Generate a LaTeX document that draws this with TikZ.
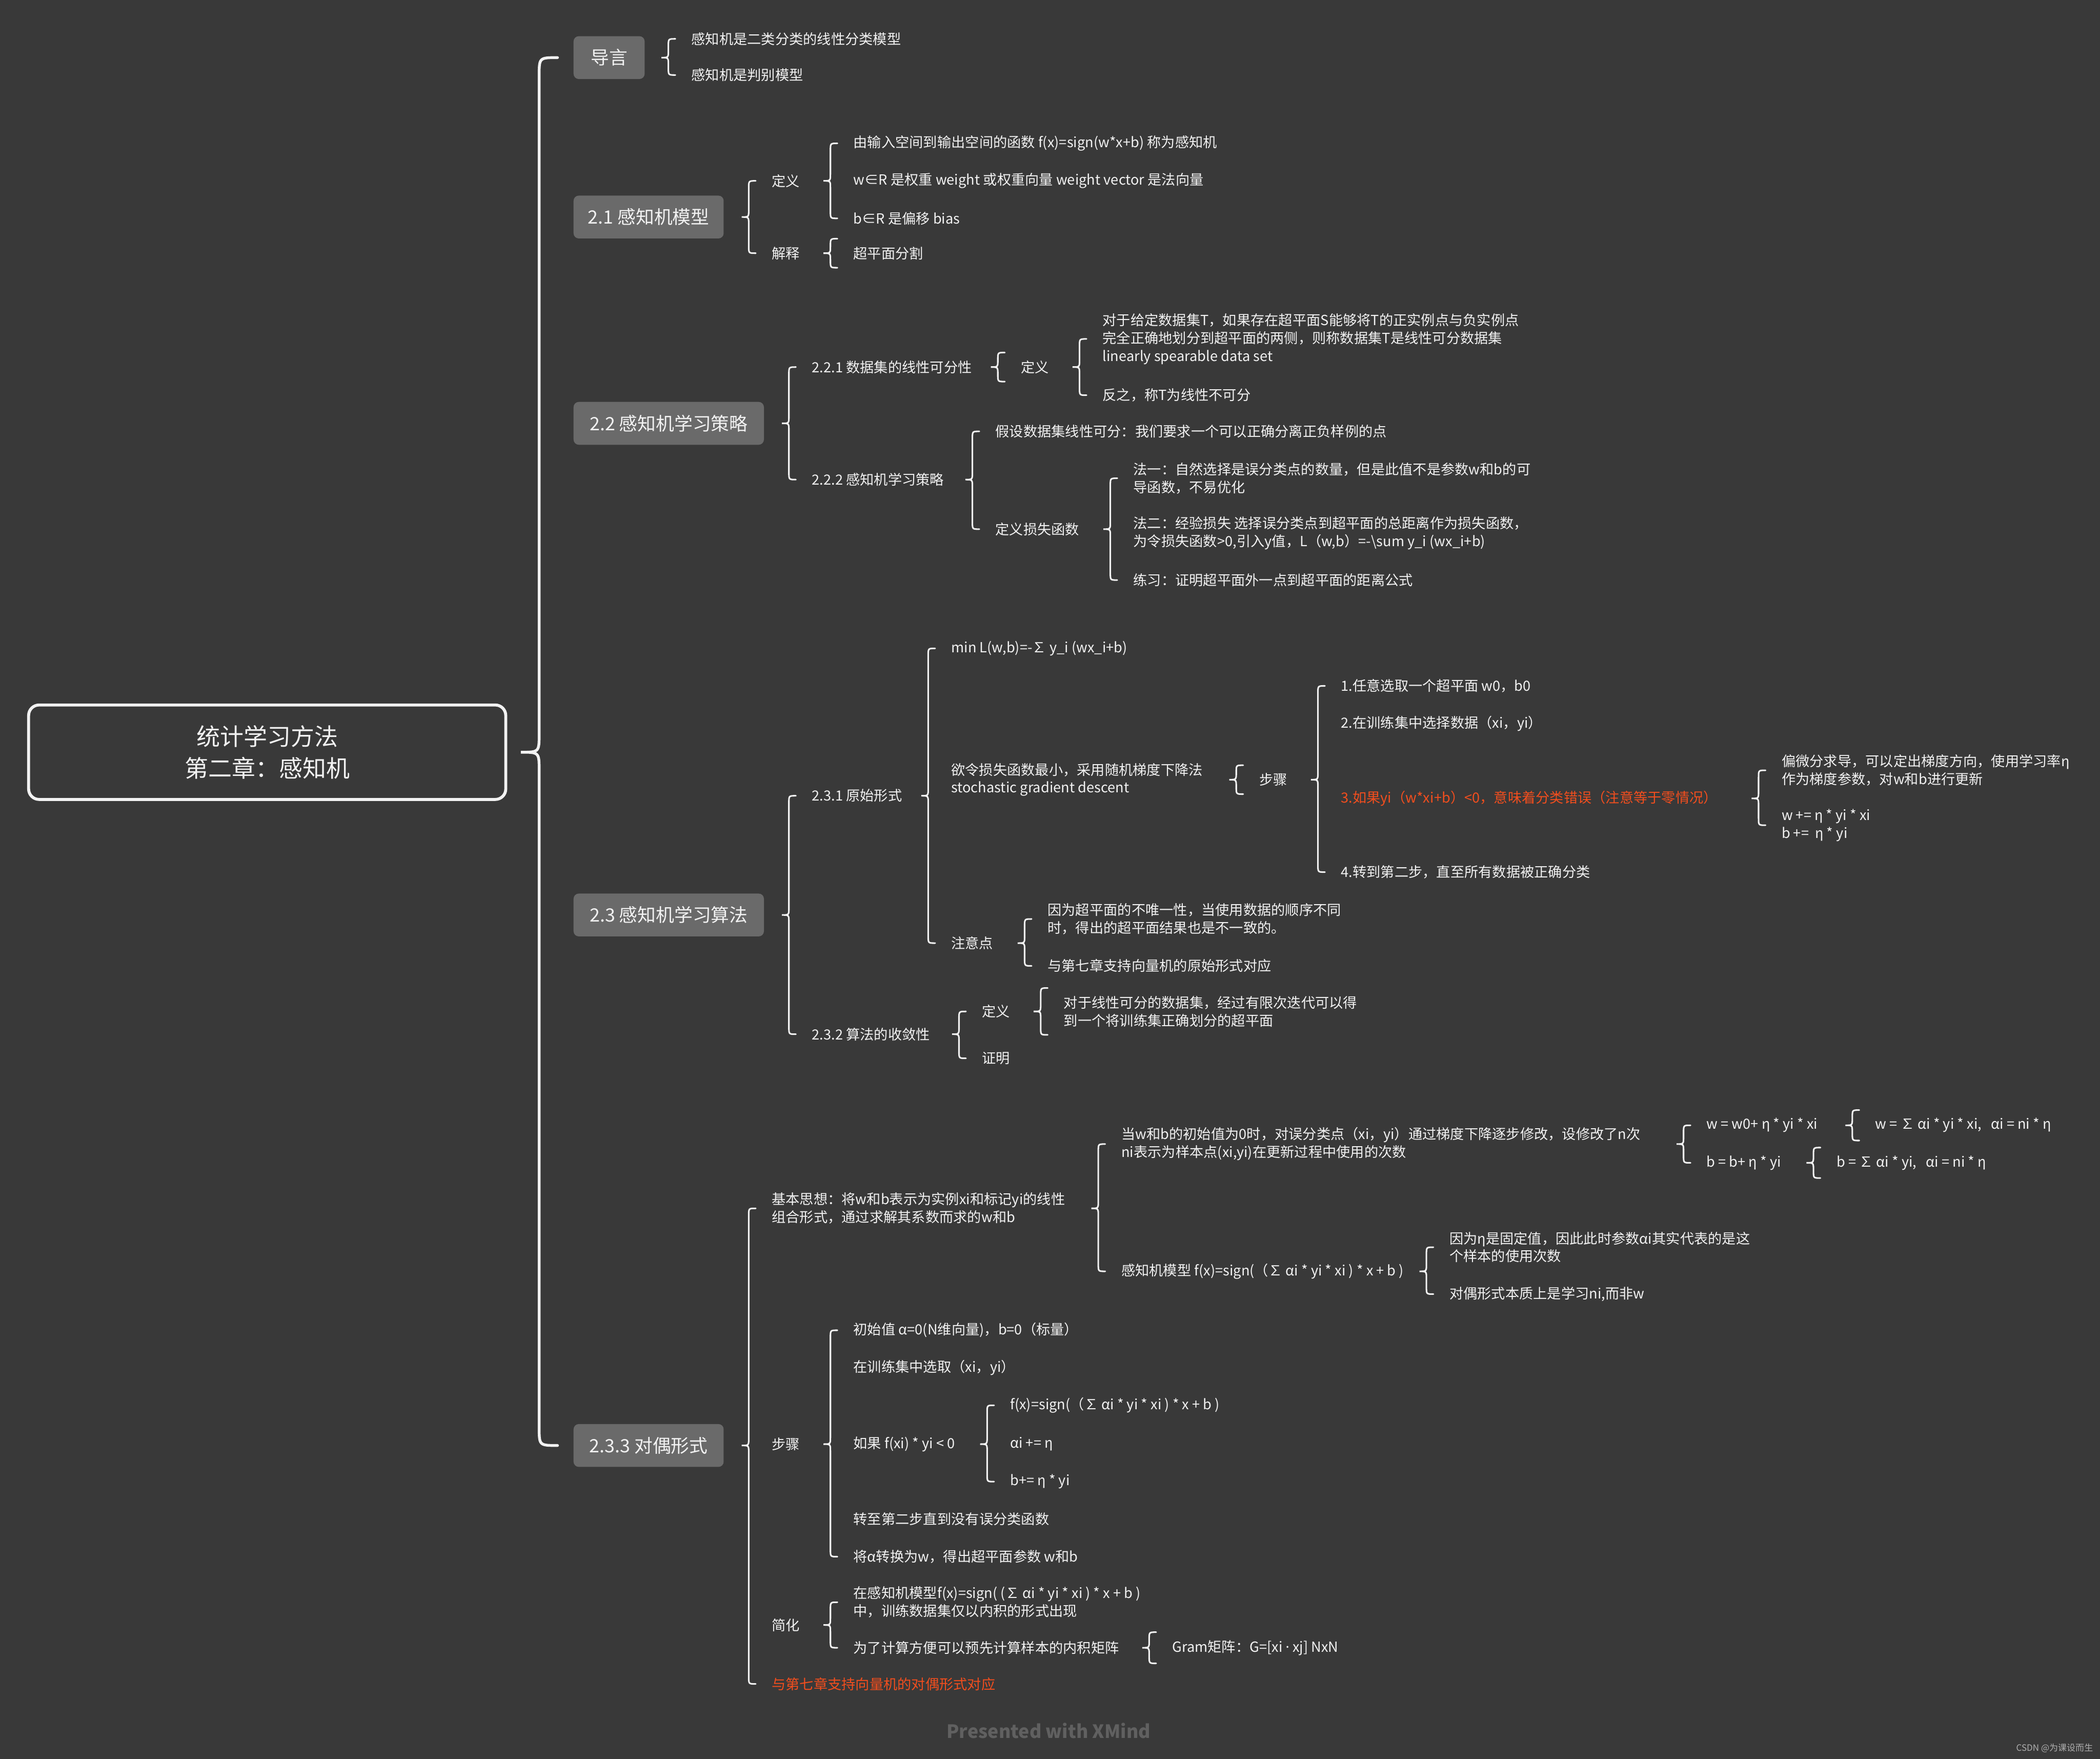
\documentclass[tikz,border=0pt]{standalone}
\usepackage{fontspec}
\setmainfont{Noto Sans CJK SC}
\newfontfamily\dotfont{Noto Sans}
\usetikzlibrary{calc}
\definecolor{bgdark}{RGB}{57,57,57}
\definecolor{boxgray}{RGB}{106,106,106}
\definecolor{fgwhite}{RGB}{242,242,242}
\definecolor{hotred}{RGB}{242,78,30}
\definecolor{footgray}{RGB}{96,96,96}
\definecolor{markgray}{RGB}{175,175,175}
\newcommand{\bracelink}[4][8pt]{%
  \def\bw{#1}%
  \draw[brc] let \p1=(#2), \p2=(#3), \p3=(#4) in
    ({\x2-9pt},\y2) .. controls ({\x2-9pt-\bw/2},\y2) .. ({\x2-9pt-\bw/2},{\y2-\bw/2})
    -- ({\x2-9pt-\bw/2},{\y1+\bw/2}) .. controls ({\x2-9pt-\bw/2},\y1) .. ({\x2-9pt-\bw},\y1)
    .. controls ({\x2-9pt-\bw/2},\y1) .. ({\x2-9pt-\bw/2},{\y1-\bw/2})
    -- ({\x2-9pt-\bw/2},{\y3+\bw/2}) .. controls ({\x2-9pt-\bw/2},\y3) .. ({\x2-9pt},\y3);}

\begin{document}
\begin{tikzpicture}[x=0.02695cm,y=-0.02695cm,
  root/.style={draw=fgwhite,line width=1.7pt,rounded corners=6pt,text=fgwhite,minimum width=9.6cm,minimum height=1.9cm,align=center,font=\fontsize{13.5}{18.3}\selectfont},
  topic/.style={anchor=west,fill=boxgray,rounded corners=3pt,text=fgwhite,minimum height=0.862cm,inner xsep=0.2cm,font=\fontsize{10.5}{12.5}\selectfont},
  leaf/.style={anchor=west,inner xsep=0pt,inner ysep=4.4pt,text=fgwhite,align=left,font=\fontsize{8}{10.2}\selectfont},
  hot/.style={leaf,text=hotred},
  brc/.style={draw=fgwhite,line width=0.9pt,line cap=round}]
\fill[bgdark] (0,0) rectangle (1568,1313);
\useasboundingbox (0,0) rectangle (1568,1313);

\node[root] (root) at (199.5,561.5) {统计学习方法\\第二章：感知机};

\node[topic,minimum width=1.43cm] (t0) at (428,43) {导言};
\node[topic,minimum width=3.02cm] (t1) at (428,162) {2.1 感知机模型};
\node[topic,minimum width=3.83cm] (t2) at (428,316) {2.2 感知机学习策略};
\node[topic,minimum width=3.83cm] (t3) at (428,683) {2.3 感知机学习算法};
\node[topic,minimum width=3.02cm] (t4) at (428,1079) {2.3.3 对偶形式};

\node[leaf] (a1) at (516,29) {感知机是二类分类的线性分类模型};
\node[leaf] (a2) at (516,56) {感知机是判别模型};

\node[leaf] (d1) at (576,135) {定义};
\node[leaf] (j1) at (576,189) {解释};
\node[leaf] (d1a) at (637,107) {由输入空间到输出空间的函数 f(x)=sign(w*x+b) 称为感知机};
\node[leaf] (d1b) at (637,135) {w∈R 是权重 weight 或权重向量 weight vector 是法向量};
\node[leaf] (d1c) at (637,163) {b∈R 是偏移 bias};
\node[leaf] (j1a) at (637,189) {超平面分割};

\node[leaf] (s1) at (606,274) {2.2.1 数据集的线性可分性};
\node[leaf] (s2) at (606,358) {2.2.2 感知机学习策略};
\node[leaf] (s1d) at (762,274) {定义};
\node[leaf] (s1da) at (823,253) {对于给定数据集T，如果存在超平面S能够将T的正实例点与负实例点\\完全正确地划分到超平面的两侧，则称数据集T是线性可分数据集\\linearly spearable data set};
\node[leaf] (s1db) at (823,295) {反之，称T为线性不可分};
\node[leaf] (s2a) at (743,322) {假设数据集线性可分：我们要求一个可以正确分离正负样例的点};
\node[leaf] (s2b) at (743,395) {定义损失函数};
\node[leaf] (s2ba) at (846,357) {法一：自然选择是误分类点的数量，但是此值不是参数w和b的可\\导函数，不易优化};
\node[leaf] (s2bb) at (846,398) {法二：经验损失 选择误分类点到超平面的总距离作为损失函数，\\为令损失函数>0,引入y值，L（w,b）=-\textbackslash sum y\_i (wx\_i+b)};
\node[leaf] (s2bc) at (846,433) {练习：证明超平面外一点到超平面的距离公式};

\node[leaf] (p1) at (606,594) {2.3.1 原始形式};
\node[leaf] (p2) at (606,772) {2.3.2 算法的收敛性};
\node[leaf] (p1a) at (710,484) {min L(w,b)=-∑ y\_i (wx\_i+b)};
\node[leaf] (p1b) at (710,582) {欲令损失函数最小，采用随机梯度下降法\\stochastic gradient descent};
\node[leaf] (p1c) at (710,704) {注意点};
\node[leaf] (p1bs) at (940,582) {步骤};
\node[leaf] (st1) at (1001,512) {1.任意选取一个超平面 w0，b0};
\node[leaf] (st2) at (1001,540) {2.在训练集中选择数据（xi，yi）};
\node[hot] (st3) at (1001,596) {3.如果yi（w*xi+b）<0，意味着分类错误（注意等于零情况）};
\node[leaf] (st4) at (1001,651) {4.转到第二步，直至所有数据被正确分类};
\node[leaf] (st3a) at (1330,575) {偏微分求导，可以定出梯度方向，使用学习率η\\作为梯度参数，对w和b进行更新};
\node[leaf] (st3b) at (1330,616) {w += η * yi * xi\\b +=\ \ η * yi};
\node[leaf] (p1ca) at (782,686) {因为超平面的不唯一性，当使用数据的顺序不同\\时，得出的超平面结果也是不一致的。};
\node[leaf] (p1cb) at (782,721) {与第七章支持向量机的原始形式对应};
\node[leaf] (p2d) at (733,755) {定义};
\node[leaf] (p2p) at (733,790) {证明};
\node[leaf] (p2da) at (794,755) {对于线性可分的数据集，经过有限次迭代可以得\\到一个将训练集正确划分的超平面};

\node[leaf] (q1) at (576,902) {基本思想：将w和b表示为实例xi和标记yi的线性\\组合形式，通过求解其系数而求的w和b};
\node[leaf] (q2) at (576,1078) {步骤};
\node[leaf] (q3) at (576,1213) {简化};
\node[hot] (q4) at (576,1257) {与第七章支持向量机的对偶形式对应};
\node[leaf] (q1a) at (837,854) {当w和b的初始值为0时，对误分类点（xi，yi）通过梯度下降逐步修改，设修改了n次\\ni表示为样本点(xi,yi)在更新过程中使用的次数};
\node[leaf] (q1b) at (837,949) {感知机模型 f(x)=sign(（∑ αi * yi * xi ) * x + b )};
\node[leaf] (q1aa) at (1274,840) {w = w0+ η * yi * xi};
\node[leaf] (q1ab) at (1274,868) {b = b+ η * yi};
\node[leaf] (q1aaa) at (1400,840) {w = ∑ αi * yi * xi,\ \ \ αi = ni * η};
\node[leaf] (q1aba) at (1371,868) {b = ∑ αi * yi,\ \ \ αi = ni * η};
\node[leaf] (q1ba) at (1082,931) {因为η是固定值，因此此时参数αi其实代表的是这\\个样本的使用次数};
\node[leaf] (q1bb) at (1082,966) {对偶形式本质上是学习ni,而非w};
\node[leaf] (r1) at (637,993) {初始值 α=0(N维向量)，b=0（标量）};
\node[leaf] (r2) at (637,1021) {在训练集中选取（xi，yi）};
\node[leaf] (r3) at (637,1078) {如果 f(xi) * yi < 0};
\node[leaf] (r4) at (637,1134) {转至第二步直到没有误分类函数};
\node[leaf] (r5) at (637,1162) {将α转换为w，得出超平面参数 w和b};
\node[leaf] (r3a) at (754,1049) {f(x)=sign(（∑ αi * yi * xi ) * x + b )};
\node[leaf] (r3b) at (754,1078) {αi += η};
\node[leaf] (r3c) at (754,1106) {b+= η * yi};
\node[leaf] (q3a) at (637,1196) {在感知机模型f(x)=sign( (∑ αi * yi * xi ) * x + b )\\中，训练数据集仅以内积的形式出现};
\node[leaf] (q3b) at (637,1230) {为了计算方便可以预先计算样本的内积矩阵};
\node[leaf] (q3ba) at (875,1230) {Gram矩阵：G=[xi {\dotfont·} xj] NxN};

\node[text=footgray,font=\fontsize{10.5}{12.5}\selectfont\bfseries] (foot) at (783,1292) {Presented with XMind};
\node[anchor=east,inner sep=0pt,text=markgray,font=\fontsize{5}{6}\selectfont] (mark) at (1563,1305) {CSDN @为课设而生};

\begin{scope}[brc/.style={draw=fgwhite,line width=1.6pt,line cap=round}]
\bracelink[21pt]{root.east}{t0.west}{t4.west}
\end{scope}
\bracelink{t0.east}{a1.west}{a2.west}
\bracelink{t1.east}{d1.west}{j1.west}
\bracelink{d1.east}{d1a.west}{d1c.west}
\bracelink{j1.east}{j1a.north west}{j1a.south west}
\bracelink{t2.east}{s1.west}{s2.west}
\bracelink{s1.east}{s1d.north west}{s1d.south west}
\bracelink{s1d.east}{s1da.west}{s1db.west}
\bracelink{s2.east}{s2a.west}{s2b.west}
\bracelink{s2b.east}{s2ba.west}{s2bc.west}
\bracelink{t3.east}{p1.west}{p2.west}
\bracelink{p1.east}{p1a.west}{p1c.west}
\bracelink{p1b.east}{p1bs.north west}{p1bs.south west}
\bracelink{p1bs.east}{st1.west}{st4.west}
\bracelink{st3.east}{st3a.west}{st3b.west}
\bracelink{p1c.east}{p1ca.west}{p1cb.west}
\bracelink{p2.east}{p2d.west}{p2p.west}
\bracelink{p2d.east}{p2da.north west}{p2da.south west}
\bracelink{t4.east}{q1.west}{q4.west}
\bracelink{q1.east}{q1a.west}{q1b.west}
\bracelink{q1a.east}{q1aa.west}{q1ab.west}
\bracelink{q1aa.east}{q1aaa.north west}{q1aaa.south west}
\bracelink{q1ab.east}{q1aba.north west}{q1aba.south west}
\bracelink{q1b.east}{q1ba.west}{q1bb.west}
\bracelink{q2.east}{r1.west}{r5.west}
\bracelink{r3.east}{r3a.west}{r3c.west}
\bracelink{q3.east}{q3a.west}{q3b.west}
\bracelink{q3b.east}{q3ba.north west}{q3ba.south west}
\end{tikzpicture}
\end{document}
